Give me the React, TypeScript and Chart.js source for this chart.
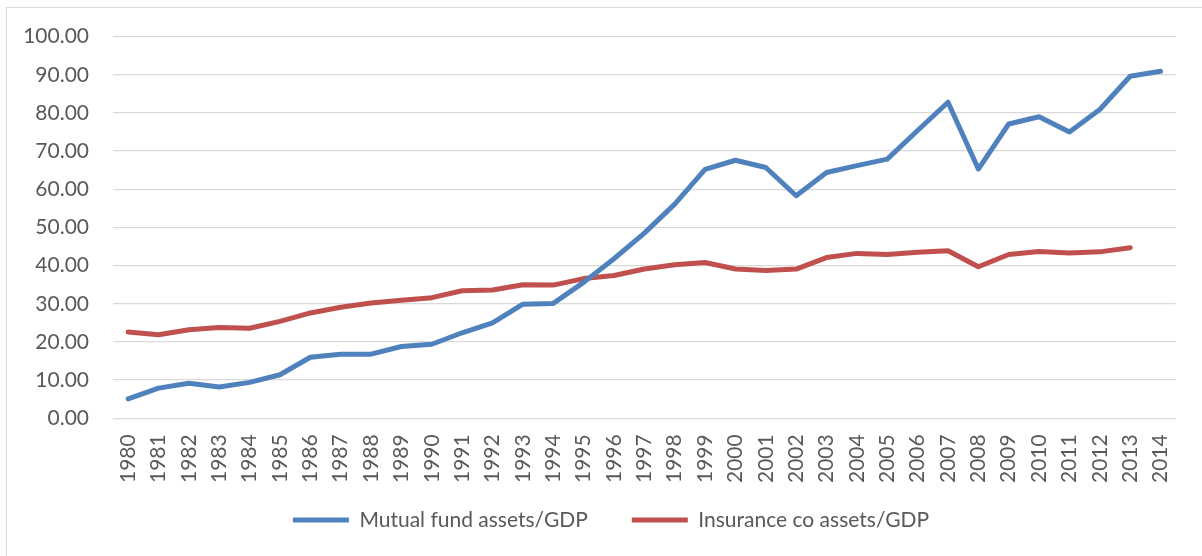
import React, { useEffect, useRef } from "react";
import { Chart, registerables } from "chart.js";

Chart.register(...registerables);

const years = [
  "1980", "1981", "1982", "1983", "1984", "1985", "1986", "1987", "1988", "1989",
  "1990", "1991", "1992", "1993", "1994", "1995", "1996", "1997", "1998", "1999",
  "2000", "2001", "2002", "2003", "2004", "2005", "2006", "2007", "2008", "2009",
  "2010", "2011", "2012", "2013", "2014",
];

const mutualFund = [
  5.1, 7.9, 9.2, 8.2, 9.4, 11.4, 16.0, 16.8, 16.8, 18.8,
  19.4, 22.4, 25.0, 29.9, 30.1, 35.6, 41.8, 48.5, 56.1, 65.2,
  67.6, 65.7, 58.3, 64.4, 66.2, 67.9, 75.4, 82.8, 65.3, 77.1,
  79.0, 75.0, 80.9, 89.6, 90.9,
];

const insurance = [
  22.6, 21.9, 23.2, 23.8, 23.6, 25.4, 27.6, 29.1, 30.2, 30.9,
  31.6, 33.4, 33.6, 35.0, 34.9, 36.6, 37.4, 39.1, 40.2, 40.8,
  39.1, 38.7, 39.1, 42.1, 43.2, 42.9, 43.5, 43.9, 39.7, 42.9,
  43.7, 43.3, 43.6, 44.7, null,
];

const seriesNames = ["Mutual fund assets/GDP", "Insurance co assets/GDP"];
const yTicks = { min: 0, max: 100, step: 10 };

const LEGEND_CENTER_X = 611;
const LEGEND_TEXT_CENTER_Y = 520;

const legendPlacer = {
  id: "legendPlacer",
  afterLayout(chart: any) {
    const l = chart.legend;
    if (!l) return;
    const dx = LEGEND_CENTER_X - (l.left + l.right) / 2;
    const pad = l.options.labels.padding;
    const fs = l.options.labels.font.size;
    const curCenter = l.top + pad + fs / 2;
    const dy = LEGEND_TEXT_CENTER_Y - curCenter;
    l.left += dx;
    l.right += dx;
    l.top += dy;
    l.bottom += dy;
  },
};

export default function App() {
  const ref = useRef<HTMLCanvasElement>(null);

  useEffect(() => {
    document.body.style.margin = "0";
    document.body.style.overflow = "hidden";
    const font = { family: "Lato, 'Open Sans', sans-serif", size: 21 };
    const chart = new Chart(ref.current!, {
      type: "line",
      data: {
        labels: years,
        datasets: [
          {
            label: seriesNames[0],
            data: mutualFund,
            borderColor: "#4f81bd",
            backgroundColor: "#4f81bd",
            borderWidth: 5,
            pointRadius: 0,
            borderCapStyle: "round",
            borderJoinStyle: "round",
            tension: 0,
          },
          {
            label: seriesNames[1],
            data: insurance,
            borderColor: "#c0504d",
            backgroundColor: "#c0504d",
            borderWidth: 5,
            pointRadius: 0,
            borderCapStyle: "round",
            borderJoinStyle: "round",
            tension: 0,
          },
        ],
      },
      plugins: [legendPlacer],
      options: {
        responsive: false,
        animation: false,
        layout: { padding: { left: 8, right: 19, top: 36, bottom: -18 } },
        plugins: {
          tooltip: { enabled: false },
          legend: {
            position: "bottom",
            labels: {
              usePointStyle: true,
              pointStyle: "line",
              pointStyleWidth: 56,
              boxHeight: 20,
              padding: 44,
              color: "#595959",
              font,
            },
          },
        },
        scales: {
          x: {
            offset: true,
            grid: { display: false, drawTicks: false },
            border: { display: false },
            ticks: {
              color: "#595959",
              font,
              minRotation: 90,
              maxRotation: 90,
              padding: 16,
              autoSkip: false,
            },
          },
          y: {
            min: yTicks.min,
            max: yTicks.max,
            grid: { color: "#d9d9d9", lineWidth: 1.3, drawTicks: false },
            border: { display: false },
            ticks: {
              stepSize: yTicks.step,
              color: "#595959",
              font,
              padding: 24,
              callback: (v: any) => Number(v).toFixed(2),
            },
            afterFit: (s: any) => {
              s.width = 105;
            },
          },
        },
      },
    });
    return () => chart.destroy();
  }, []);

  return (
    <div style={{ position: "relative", width: 1202, height: 556, overflow: "hidden", background: "#fff" }}>
      <div
        style={{
          position: "absolute",
          left: 6,
          top: 7,
          width: 1300,
          height: 700,
          border: "1px solid #d9d9d9",
          boxSizing: "border-box",
        }}
      />
      <canvas ref={ref} width={1202} height={556} style={{ position: "absolute", left: 0, top: 0 }} />
    </div>
  );
}
